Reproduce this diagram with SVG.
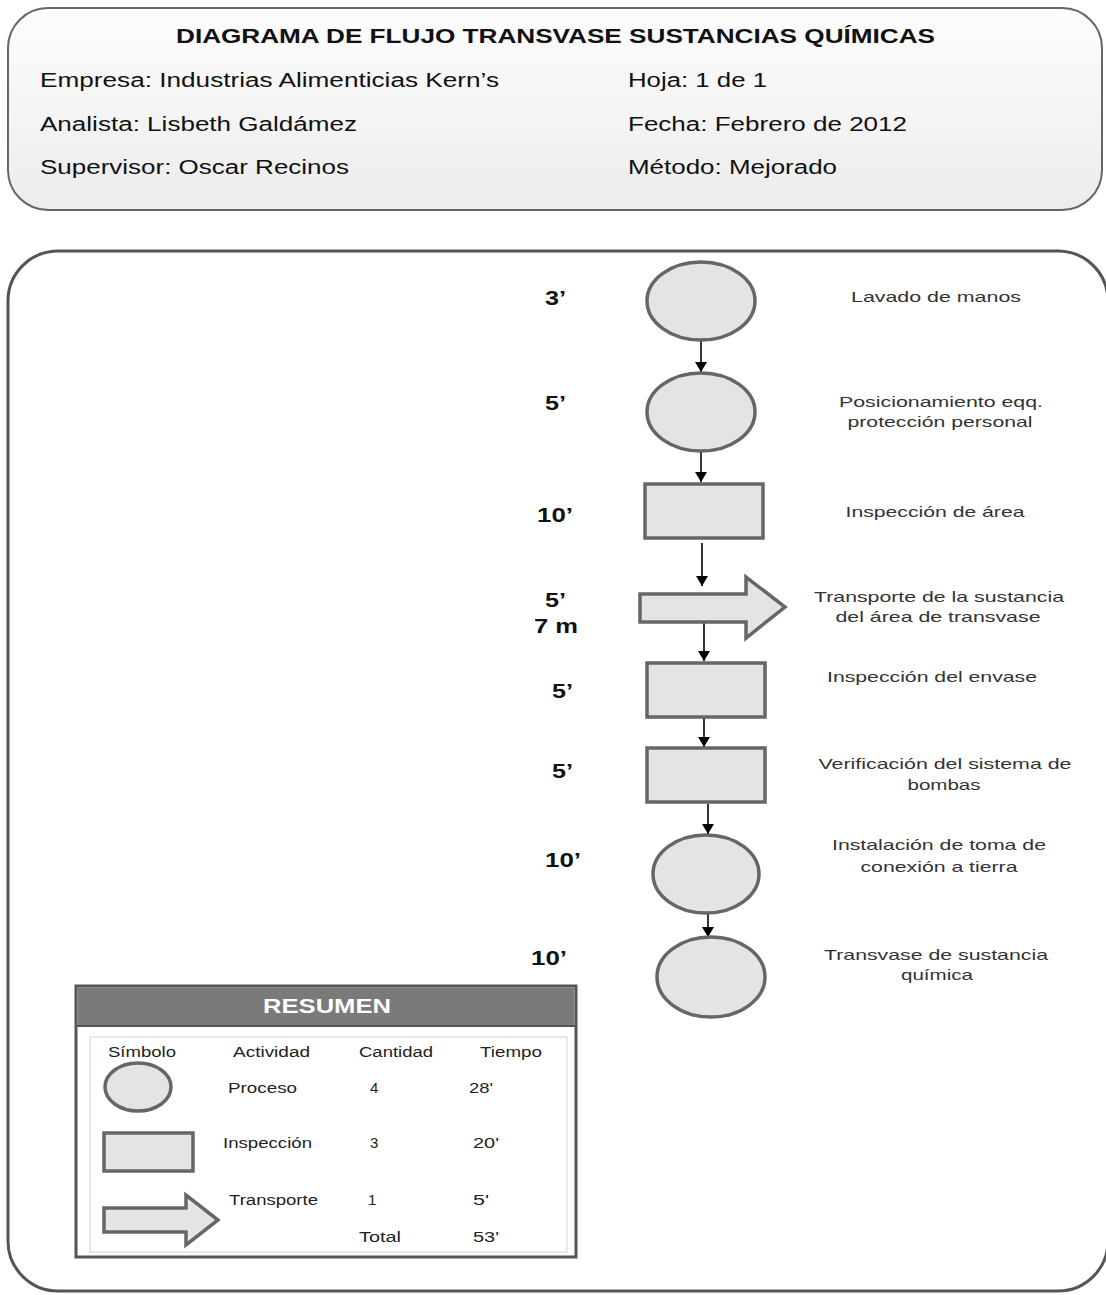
<svg xmlns="http://www.w3.org/2000/svg" width="1106" height="1295" viewBox="0 0 1106 1295">
<defs>
<linearGradient id="hdrGrad" x1="0" y1="0" x2="0" y2="1">
<stop offset="0" stop-color="#fdfdfd"/>
<stop offset="1" stop-color="#ececec"/>
</linearGradient>
<marker id="arr" viewBox="0 0 10 12" refX="10" refY="6" markerWidth="10" markerHeight="12" markerUnits="userSpaceOnUse" orient="auto">
<path d="M0,0 L10,6 L0,12 Z" fill="#000"/>
</marker>
</defs>
<style>
.hdr{font-family:"Liberation Sans",Arial,sans-serif;font-size:20px;fill:#111}
.ttl{font-family:"Liberation Sans",Arial,sans-serif;font-size:21px;font-weight:bold;fill:#111}
.tm{font-family:"Liberation Sans",Arial,sans-serif;font-size:20px;font-weight:bold;fill:#111}
.desc{font-family:"Liberation Sans",Arial,sans-serif;font-size:15px;fill:#333;text-anchor:middle}
.rs{font-family:"Liberation Sans",Arial,sans-serif;font-size:14px;fill:#222}
.num{font-family:"Liberation Sans",Arial,sans-serif;font-size:15px;fill:#222}
.node{fill:#e4e4e4;stroke:#666;stroke-width:3.5}
.conn{stroke:#000;stroke-width:1.6;fill:none}
</style>
<rect x="8" y="8" width="1094" height="202" rx="40" ry="40" fill="url(#hdrGrad)" stroke="#666" stroke-width="2"/>
<g id="header">
<text class="ttl" x="176" y="43" textLength="759" lengthAdjust="spacingAndGlyphs">DIAGRAMA DE FLUJO TRANSVASE SUSTANCIAS QUÍMICAS</text>
<text class="hdr" x="40" y="87" textLength="459" lengthAdjust="spacingAndGlyphs">Empresa: Industrias Alimenticias Kern’s</text>
<text class="hdr" x="40" y="131" textLength="317" lengthAdjust="spacingAndGlyphs">Analista: Lisbeth Galdámez</text>
<text class="hdr" x="40" y="174" textLength="309" lengthAdjust="spacingAndGlyphs">Supervisor: Oscar Recinos</text>
<text class="hdr" x="628" y="87" textLength="139" lengthAdjust="spacingAndGlyphs">Hoja: 1 de 1</text>
<text class="hdr" x="628" y="131" textLength="279" lengthAdjust="spacingAndGlyphs">Fecha: Febrero de 2012</text>
<text class="hdr" x="628" y="174" textLength="209" lengthAdjust="spacingAndGlyphs">Método: Mejorado</text>
</g>
<rect x="8" y="251" width="1100" height="1040" rx="50" ry="50" fill="#fff" stroke="#555" stroke-width="3"/>
<g id="connectors">
<line class="conn" x1="701" y1="341" x2="701" y2="372" marker-end="url(#arr)"/>
<line class="conn" x1="701" y1="452" x2="701" y2="482" marker-end="url(#arr)"/>
<line class="conn" x1="702" y1="543" x2="702" y2="586" marker-end="url(#arr)"/>
<line class="conn" x1="704" y1="623" x2="704" y2="661" marker-end="url(#arr)"/>
<line class="conn" x1="704" y1="718" x2="704" y2="747" marker-end="url(#arr)"/>
<line class="conn" x1="708" y1="804" x2="708" y2="834" marker-end="url(#arr)"/>
<line class="conn" x1="708" y1="914" x2="708" y2="937" marker-end="url(#arr)"/>
</g>
<g id="n1"><ellipse class="node" cx="701" cy="301" rx="54" ry="39"/><text class="tm" x="545" y="305" textLength="21" lengthAdjust="spacingAndGlyphs">3’</text><text class="desc" x="936" y="302" textLength="170" lengthAdjust="spacingAndGlyphs">Lavado de manos</text></g>
<g id="n2"><ellipse class="node" cx="701" cy="412" rx="54" ry="39"/><text class="tm" x="545" y="410" textLength="21" lengthAdjust="spacingAndGlyphs">5’</text><text class="desc" x="941" y="407" textLength="204" lengthAdjust="spacingAndGlyphs">Posicionamiento eqq.</text><text class="desc" x="940" y="427" textLength="185" lengthAdjust="spacingAndGlyphs">protección personal</text></g>
<g id="n3"><rect class="node" x="645" y="484" width="118" height="54"/><text class="tm" x="537" y="522" textLength="36" lengthAdjust="spacingAndGlyphs">10’</text><text class="desc" x="935" y="517" textLength="179" lengthAdjust="spacingAndGlyphs">Inspección de área</text></g>
<g id="n4"><path class="node" d="M640,594 L746,594 L746,577 L785,607 L746,638 L746,622 L640,622 Z"/><text class="tm" x="545" y="607" textLength="21" lengthAdjust="spacingAndGlyphs">5’</text><text class="tm" x="534" y="633" textLength="44" lengthAdjust="spacingAndGlyphs">7 m</text><text class="desc" x="939" y="602" textLength="250" lengthAdjust="spacingAndGlyphs">Transporte de la sustancia</text><text class="desc" x="938" y="622" textLength="205" lengthAdjust="spacingAndGlyphs">del área de transvase</text></g>
<g id="n5"><rect class="node" x="647" y="663" width="118" height="54"/><text class="tm" x="552" y="698" textLength="21" lengthAdjust="spacingAndGlyphs">5’</text><text class="desc" x="932" y="682" textLength="210" lengthAdjust="spacingAndGlyphs">Inspección del envase</text></g>
<g id="n6"><rect class="node" x="647" y="748" width="118" height="54"/><text class="tm" x="552" y="778" textLength="21" lengthAdjust="spacingAndGlyphs">5’</text><text class="desc" x="945" y="769" textLength="253" lengthAdjust="spacingAndGlyphs">Verificación del sistema de</text><text class="desc" x="944" y="790" textLength="73" lengthAdjust="spacingAndGlyphs">bombas</text></g>
<g id="n7"><ellipse class="node" cx="706" cy="874" rx="53" ry="39"/><text class="tm" x="545" y="867" textLength="36" lengthAdjust="spacingAndGlyphs">10’</text><text class="desc" x="939" y="850" textLength="214" lengthAdjust="spacingAndGlyphs">Instalación de toma de</text><text class="desc" x="939" y="872" textLength="157" lengthAdjust="spacingAndGlyphs">conexión a tierra</text></g>
<g id="n8"><ellipse class="node" cx="711" cy="977" rx="54" ry="40"/><text class="tm" x="531" y="965" textLength="36" lengthAdjust="spacingAndGlyphs">10’</text><text class="desc" x="936" y="960" textLength="224" lengthAdjust="spacingAndGlyphs">Transvase de sustancia</text><text class="desc" x="937" y="980" textLength="72" lengthAdjust="spacingAndGlyphs">química</text></g>
<g id="resumen">
<rect x="76" y="986" width="500" height="271" fill="#fff" stroke="#555" stroke-width="3"/>
<rect x="77.5" y="987.5" width="497" height="38" fill="#7a7a7a"/>
<line x1="77" y1="1026" x2="576" y2="1026" stroke="#555" stroke-width="2"/>
<text x="327" y="1013" font-family="Liberation Sans, Arial, sans-serif" font-size="20" font-weight="bold" fill="#fff" text-anchor="middle" textLength="128" lengthAdjust="spacingAndGlyphs">RESUMEN</text>
<rect x="90" y="1037" width="477" height="215" fill="none" stroke="#e2e2e2" stroke-width="1.5"/>
<text class="rs" x="108" y="1057" textLength="68" lengthAdjust="spacingAndGlyphs">Símbolo</text>
<text class="rs" x="233" y="1057" textLength="77" lengthAdjust="spacingAndGlyphs">Actividad</text>
<text class="rs" x="359" y="1057" textLength="74" lengthAdjust="spacingAndGlyphs">Cantidad</text>
<text class="rs" x="480" y="1057" textLength="62" lengthAdjust="spacingAndGlyphs">Tiempo</text>
<ellipse class="node" cx="138" cy="1087" rx="33" ry="24"/>
<text class="rs" x="228" y="1093" textLength="69" lengthAdjust="spacingAndGlyphs">Proceso</text>
<text class="num" x="370" y="1093">4</text>
<text class="num" x="469" y="1093" textLength="24" lengthAdjust="spacingAndGlyphs">28'</text>
<rect class="node" x="104" y="1133" width="89" height="38"/>
<text class="rs" x="223" y="1148" textLength="89" lengthAdjust="spacingAndGlyphs">Inspección</text>
<text class="num" x="370" y="1148">3</text>
<text class="num" x="473" y="1148" textLength="26" lengthAdjust="spacingAndGlyphs">20'</text>
<path class="node" d="M104,1208 L186,1208 L186,1195 L218,1220 L186,1245 L186,1232 L104,1232 Z"/>
<text class="rs" x="229" y="1205" textLength="89" lengthAdjust="spacingAndGlyphs">Transporte</text>
<text class="num" x="368" y="1205">1</text>
<text class="num" x="473" y="1205" textLength="16" lengthAdjust="spacingAndGlyphs">5'</text>
<text class="rs" x="359" y="1242" textLength="42" lengthAdjust="spacingAndGlyphs">Total</text>
<text class="num" x="473" y="1242" textLength="26" lengthAdjust="spacingAndGlyphs">53'</text>
</g>
</svg>
